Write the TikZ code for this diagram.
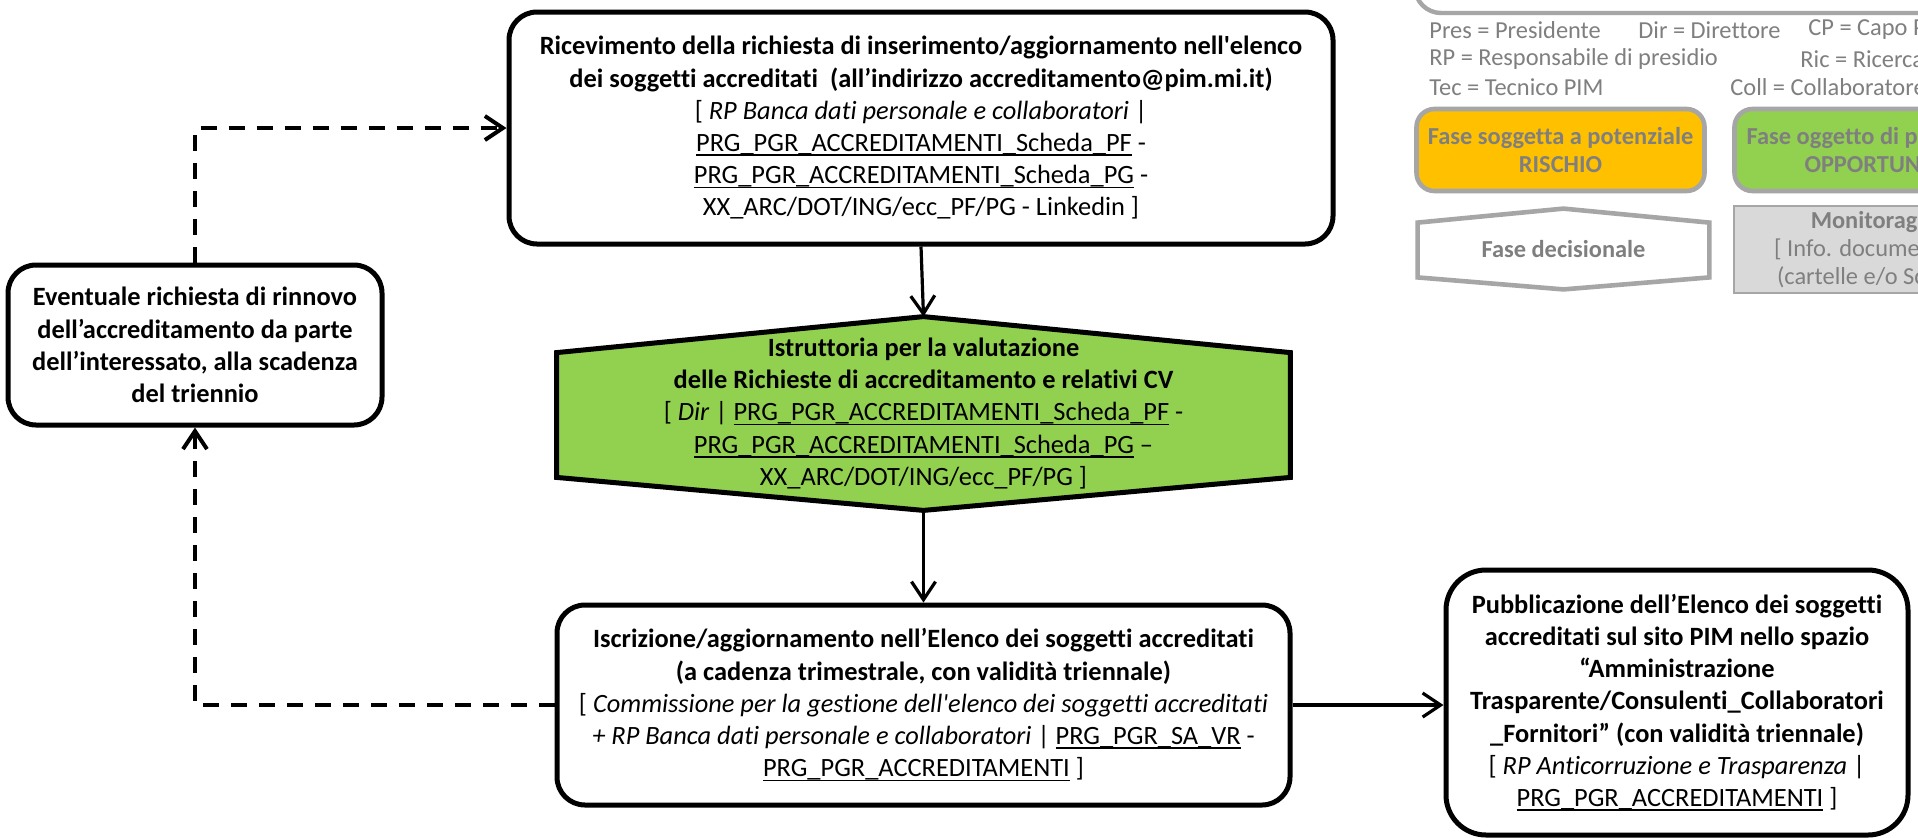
\documentclass[tikz,border=0pt]{standalone}
\usepackage{fontspec}
\setmainfont{Carlito}[Ligatures={TeXOff,NoCommon}]
\usetikzlibrary{arrows.meta,calc,backgrounds}

\definecolor{legendgray}{HTML}{7F7F7F}
\definecolor{framegray}{HTML}{A6A6A6}
\definecolor{phasegreen}{HTML}{92D050}
\definecolor{riskorange}{HTML}{FFC000}
\definecolor{monfill}{HTML}{D9D9D9}

% underlined document code, rule at the height of the underscores
\newcommand\ulin[1]{{\setbox0=\hbox{#1}\rlap{\rule[-0.17em]{\wd0}{0.06em}}\box0}}

\tikzset{
  x=0.5pt, y=-0.5pt,
  every node/.style={font=\fontsize{13.2}{16.1}\selectfont, align=center, inner sep=0pt},
  flowbox/.style={draw=black, line width=2.5pt, rounded corners=14pt, fill=white},
  hexline/.style={draw=black, line width=2.5pt, fill=phasegreen, line join=miter},
  flow/.style={line width=1.6pt, -{Straight Barb[length=9pt,width=12pt]}},
  dashflow/.style={line width=2pt, dash pattern=on 8pt off 6pt, -{Straight Barb[length=9pt,width=12pt]}},
  legtext/.style={text=legendgray, anchor=west, font=\fontsize{12.2}{14}\selectfont},
  legbox/.style={draw=framegray, line width=2.3pt, rounded corners=9pt, text=legendgray, font=\fontsize{12.2}{14}\selectfont\bfseries,
                 minimum width=144pt, minimum height=41pt},
}

\begin{document}
\begin{tikzpicture}
\useasboundingbox (0,0) rectangle (1918,837);
\clip (0,0) rectangle (1918,837);

% ---------- legend ----------
\draw[framegray, line width=2.2pt, rounded corners=13pt] (1415,-120) rectangle (2200,13);
\node[legtext] (lpres) at (1429,30) {Pres = Presidente};
\node[legtext] (ldir)  at (1638,30) {Dir = Direttore};
\node[legtext] (lcp)   at (1808,30) {CP = Capo Progetto};
\node[legtext] (lrp)   at (1429,59) {RP = Responsabile di presidio};
\node[legtext] (lric)  at (1800,59) {Ric = Ricercatore};
\node[legtext] (ltec)  at (1429,87) {Tec = Tecnico PIM};
\node[legtext] (lcoll) at (1730,87) {Coll = Collaboratore};

\node[legbox, fill=riskorange] (lrisk) at (1560.5,150) {Fase soggetta a potenziale\\RISCHIO};
\node[legbox, fill=phasegreen] (lopp)  at (1878.5,150) {Fase oggetto di potenziale\\OPPORTUNITÀ};
\node[text=legendgray, font=\fontsize{12.2}{14}\selectfont\bfseries, minimum width=145.5pt, minimum height=40pt] (ldec) at (1563.5,249) {Fase decisionale};
\node[draw=framegray, line width=0.8pt, fill=monfill, text=legendgray, minimum width=145.5pt, minimum height=43.5pt,
      font=\fontsize{12.2}{14}\selectfont] (lmon) at (1879.5,249.5)
      {\textbf{Monitoraggio}\\{[} Info. documentate ]\\(cartelle e/o Schede)};

% ---------- process nodes ----------
\node[flowbox, minimum width=412pt, minimum height=116pt] (rcv) at (921,128)
 {\textbf{Ricevimento della richiesta di inserimento/aggiornamento nell'elenco}\\
  \textbf{dei soggetti accreditati\ \ (all’indirizzo accreditamento@pim.mi.it)}\\
  {[} \textit{RP Banca dati personale e collaboratori} |\\
  \ulin{PRG\_PGR\_ACCREDITAMENTI\_Scheda\_PF} -\\
  \ulin{PRG\_PGR\_ACCREDITAMENTI\_Scheda\_PG} -\\
  XX\_ARC/DOT/ING/ecc\_PF/PG - Linkedin ]};

\node[minimum width=366.5pt, minimum height=96.5pt] (ist) at (923.5,413.5)
 {\textbf{Istruttoria per la valutazione}\\
  \textbf{delle Richieste di accreditamento e relativi CV}\\
  {[} \textit{Dir} | \ulin{PRG\_PGR\_ACCREDITAMENTI\_Scheda\_PF} -\\
  \ulin{PRG\_PGR\_ACCREDITAMENTI\_Scheda\_PG} –\\
  XX\_ARC/DOT/ING/ecc\_PF/PG ]};

\node[flowbox, minimum width=366.5pt, minimum height=100pt] (isc) at (923.5,705)
 {\textbf{Iscrizione/aggiornamento nell’Elenco dei soggetti accreditati}\\
  \textbf{(a cadenza trimestrale, con validità triennale)}\\
  {[} \textit{Commissione per la gestione dell'elenco dei soggetti accreditati}\\
  \textit{+ RP Banca dati personale e collaboratori} | \ulin{PRG\_PGR\_SA\_VR} -\\
  \ulin{PRG\_PGR\_ACCREDITAMENTI} ]};

\node[flowbox, rounded corners=20pt, minimum width=231pt, minimum height=132.5pt] (pub) at (1677,702.5)
 {\textbf{Pubblicazione dell’Elenco dei soggetti}\\
  \textbf{accreditati sul sito PIM nello spazio}\\
  \textbf{“Amministrazione}\\
  \textbf{Trasparente/Consulenti\_Collaboratori}\\
  \textbf{\_Fornitori” (con validità triennale)}\\
  {[} \textit{RP Anticorruzione e Trasparenza} |\\
  \ulin{PRG\_PGR\_ACCREDITAMENTI} ]};

\node[flowbox, minimum width=187pt, minimum height=80pt] (ren) at (195,345)
 {\textbf{Eventuale richiesta di rinnovo}\\
  \textbf{dell’accreditamento da parte}\\
  \textbf{dell’interessato, alla scadenza}\\
  \textbf{del triennio}};

% ---------- hexagonal outlines behind their texts ----------
\begin{scope}[on background layer]
  \fill[white] (0,0) rectangle (1918,837);
  \path[hexline] (ist.north) -- ($(ist.north east)+(0,36)$) -- ($(ist.south east)+(0,-33)$)
     -- (ist.south) -- ($(ist.south west)+(0,-33)$) -- ($(ist.north west)+(0,36)$) -- cycle;
  \path[draw=framegray, line width=2.3pt, fill=white, line join=miter]
     (ldec.north) -- ($(ldec.north east)+(0,14)$) -- ($(ldec.south east)+(0,-12)$)
     -- (ldec.south) -- ($(ldec.south west)+(0,-12)$) -- ($(ldec.north west)+(0,14)$) -- cycle;
\end{scope}

% ---------- connectors ----------
\draw[flow] (rcv.south) -- (ist.north);
\draw[flow] (ist.south) -- (isc.north);
\draw[flow] (isc.east) -- (isc.east -| pub.west);
\draw[dashflow] (ren.north) |- (rcv.west);
\draw[dashflow] (isc.west) -| (ren.south);
\end{tikzpicture}
\end{document}
